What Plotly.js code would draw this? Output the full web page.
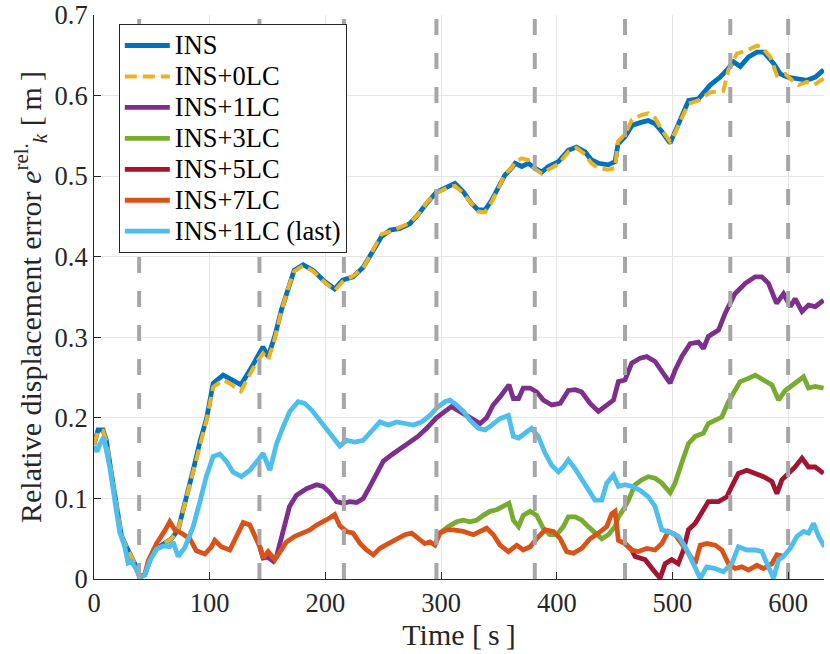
<!DOCTYPE html>
<html>
<head>
<meta charset="utf-8">
<script src="https://cdn.plot.ly/plotly-3.0.1.min.js"></script>
<style>
  html, body { margin: 0; padding: 0; background: #fff; }
  #plot { width: 830px; height: 654px; }
</style>
</head>
<body>
<div id="plot"></div>
<script>
// ---------- data: [time s, error m] ----------
const lcTimes = [39, 143, 216, 296, 381, 459, 550, 600];

const ins = [[0,0.167],[3.5,0.185],[7.8,0.185],[10.7,0.172],[15,0.131],[19.4,0.088],[23.7,0.054],[28,0.04],[32.3,0.028],[36.6,0.015],
  [39.5,0.002],[44,0.006],[49.6,0.028],[54,0.038],[62.6,0.046],[67,0.05],[72.7,0.061],[80,0.101],[85.7,0.135],[91.5,0.17],
  [97.4,0.2],[103,0.243],[111.6,0.253],[117,0.249],[127,0.241],[134.7,0.259],[140,0.272],[146,0.288],[150.5,0.276],[156,0.30],
  [162,0.334],[169,0.367],[173,0.383],[180.8,0.39],[189.5,0.383],[198,0.371],[208,0.36],[215,0.371],[224,0.375],[232.7,0.387],
  [241,0.408],[248.6,0.425],[256,0.433],[264.5,0.435],[273,0.441],[280,0.452],[287.5,0.466],[296,0.48],[306,0.487],[312,0.491],
  [319,0.481],[326.4,0.466],[332,0.458],[338,0.458],[343.7,0.47],[351,0.491],[355,0.501],[361,0.51],[364,0.516],[369.7,0.512],
  [375.4,0.516],[381,0.51],[387,0.505],[392.7,0.512],[401.4,0.518],[410,0.532],[417,0.536],[424.5,0.53],[430,0.52],[436,0.516],
  [444.6,0.514],[450.4,0.518],[453,0.54],[459,0.549],[465,0.563],[473.5,0.567],[479,0.569],[485,0.565],[491,0.555],[498,0.541],
  [502,0.553],[508,0.574],[514,0.594],[522.5,0.596],[532.6,0.613],[541.3,0.623],[548.5,0.634],[552.8,0.642],[558.6,0.636],[565.8,0.648],
  [573,0.654],[578.8,0.654],[587.4,0.64],[593.2,0.627],[599,0.623],[607.6,0.621],[616.3,0.619],[623.5,0.623],[630.7,0.632]];

const ins0lc = [[0,0.167],[3.5,0.184],[7.8,0.184],[10.7,0.171],[15,0.131],[19.4,0.088],[23.7,0.054],[28,0.04],[32.3,0.028],[36.6,0.015],
  [39.5,0.002],[44,0.006],[49.6,0.028],[54,0.038],[62.6,0.046],[67,0.05],[72.7,0.061],[80,0.101],[85.7,0.135],[91.5,0.168],
  [97.4,0.198],[103,0.238],[111.6,0.247],[117,0.243],[127,0.233],[134.7,0.254],[140,0.268],[146,0.28],[150.5,0.272],[156,0.297],
  [162,0.333],[169,0.366],[173,0.382],[180.8,0.389],[189.5,0.382],[198,0.37],[208,0.358],[215,0.369],[224,0.376],[232.7,0.386],
  [241,0.407],[248.6,0.428],[256,0.431],[264.5,0.437],[273,0.442],[280,0.452],[287.5,0.467],[296,0.479],[306,0.486],[312,0.488],
  [319,0.479],[326.4,0.466],[332,0.456],[338,0.455],[343.7,0.468],[351,0.489],[355,0.503],[361,0.51],[364,0.518],[369.7,0.522],
  [375.4,0.52],[381,0.509],[387,0.503],[392.7,0.508],[401.4,0.515],[410,0.53],[417,0.535],[424.5,0.527],[430,0.516],[436,0.51],
  [444.6,0.508],[450.4,0.51],[453,0.543],[459,0.552],[465,0.57],[473.5,0.576],[479,0.578],[485,0.572],[491,0.557],[498,0.543],
  [502,0.553],[508,0.572],[514,0.59],[522.5,0.594],[532.6,0.604],[544,0.606],[548.5,0.632],[555.7,0.652],[564.4,0.656],[573,0.662],
  [577.3,0.66],[584.6,0.648],[590.3,0.625],[597.5,0.627],[603.3,0.619],[609,0.613],[616.3,0.617],[622,0.613],[630.7,0.621]];

const ins1lc = [[143.3,0.04],[146.2,0.026],[150.5,0.027],[155,0.022],[157.8,0.028],[163.5,0.061],[169,0.09],[175,0.104],[183.7,0.112],[192.4,0.117],
  [198,0.115],[204,0.107],[209.7,0.096],[215.4,0.094],[221,0.096],[227,0.095],[232.7,0.1],[238.5,0.115],[244,0.131],[250,0.146],
  [257,0.154],[264.5,0.162],[273,0.17],[280,0.177],[287.5,0.187],[296,0.2],[303.4,0.208],[309,0.214],[316,0.208],[325,0.201],
  [333.7,0.193],[339.4,0.2],[345,0.216],[351,0.226],[355.3,0.234],[358.7,0.241],[362.5,0.224],[367,0.224],[371,0.237],[377,0.237],
  [382.7,0.232],[388.4,0.222],[395.7,0.216],[403,0.218],[410,0.234],[416,0.235],[421.6,0.232],[428.8,0.218],[436,0.208],[441.8,0.214],
  [449,0.222],[453.3,0.245],[459,0.247],[464.8,0.268],[472,0.274],[477.8,0.276],[485,0.27],[492.2,0.255],[498,0.243],[502.3,0.259],
  [508,0.276],[515.3,0.292],[522.5,0.294],[526.8,0.286],[531,0.301],[539.8,0.309],[545.6,0.33],[554,0.354],[563,0.367],[571.5,0.375],
  [577.3,0.375],[583,0.367],[590,0.342],[596,0.354],[602,0.338],[606,0.348],[612,0.332],[617.6,0.34],[623.4,0.338],[630.6,0.346]];

const ins3lc = [[299,0.057],[306,0.065],[313.5,0.071],[319,0.073],[325,0.071],[330.8,0.073],[336.5,0.079],[342.3,0.084],[348,0.086],[354,0.09],
  [358.7,0.094],[362.5,0.073],[367,0.065],[371,0.079],[377,0.084],[382.7,0.079],[388.4,0.063],[394,0.055],[400,0.055],[405.7,0.065],
  [410,0.077],[416,0.077],[421.6,0.073],[427.3,0.065],[433,0.057],[438.9,0.05],[444.6,0.055],[450.4,0.065],[453.3,0.077],[457.6,0.086],
  [462,0.098],[467.7,0.117],[473.5,0.123],[479.2,0.127],[485,0.125],[490.8,0.119],[498,0.107],[502.3,0.119],[508,0.144],[513.8,0.168],
  [519.6,0.177],[526.8,0.181],[531,0.193],[537,0.197],[542.7,0.201],[548.4,0.22],[554.2,0.234],[558.5,0.245],[565.7,0.249],[571.5,0.253],
  [578.7,0.247],[586,0.241],[591.7,0.222],[597.5,0.234],[606,0.243],[613.3,0.251],[617.6,0.237],[623.4,0.239],[630.6,0.237]];

const ins5lc = [[459,0.044],[464.8,0.036],[467.7,0.028],[476.4,0.024],[483.6,0.011],[489.3,0.001],[493.7,0.019],[499.4,0.024],[505,0.019],[509.5,0.036],
  [513.8,0.061],[519.6,0.069],[526.8,0.086],[531,0.096],[539.8,0.096],[547,0.102],[551.3,0.115],[557,0.131],[564.3,0.135],[571.5,0.131],
  [578.7,0.127],[586,0.121],[590.3,0.106],[594.6,0.123],[600.3,0.131],[606,0.139],[612,0.15],[617.6,0.139],[623.4,0.139],[630.6,0.131]];

const ins7lc = [[39.5,0.002],[44,0.006],[46.7,0.022],[54,0.044],[61.2,0.06],[65.5,0.071],[69.8,0.061],[75.5,0.057],[82.8,0.05],[88.5,0.035],
  [95.8,0.031],[101.5,0.04],[104.4,0.048],[110,0.04],[117.4,0.036],[123,0.052],[129,0.07],[134.7,0.067],[139,0.055],[143.3,0.04],
  [146.2,0.026],[150.5,0.034],[156.3,0.024],[160.7,0.034],[166.4,0.046],[173.6,0.053],[180.8,0.057],[186.6,0.061],[192.4,0.067],[198,0.071],
  [204,0.076],[208,0.08],[212.5,0.066],[218.3,0.059],[224,0.057],[230,0.044],[235.6,0.036],[241.4,0.03],[247,0.038],[254.4,0.044],
  [261.6,0.05],[268.8,0.055],[274.5,0.057],[280,0.05],[286,0.044],[290.4,0.046],[294.7,0.042],[299,0.057],[304.8,0.061],[310.6,0.061],
  [319.2,0.059],[328,0.055],[333.7,0.059],[339.4,0.063],[345.2,0.055],[351,0.042],[358.2,0.034],[365.4,0.042],[371,0.036],[377,0.04],
  [382.7,0.05],[390,0.061],[397,0.059],[403,0.05],[408.6,0.034],[414.4,0.032],[421.6,0.038],[428.8,0.05],[436,0.057],[443.2,0.065],
  [447.5,0.081],[450.4,0.084],[453.3,0.048],[459,0.044],[464.8,0.036],[470.6,0.034],[477.8,0.038],[485,0.036],[490.8,0.044],[496.5,0.059],
  [502.3,0.055],[508,0.044],[513.8,0.032],[519.6,0.019],[524,0.042],[529.7,0.044],[537,0.042],[542.7,0.036],[548.4,0.019],[554.2,0.013],
  [560,0.015],[565.7,0.011],[573,0.017],[578.7,0.013],[586,0.019],[590.3,0.03],[596,0.028]];

const ins1lcLast = [[0,0.165],[2.6,0.158],[5,0.167],[8.4,0.176],[13.6,0.139],[17.9,0.102],[22.2,0.058],[26.6,0.04],[29.4,0.02],[32.3,0.022],
  [36.6,0.012],[39.5,0.002],[44,0.005],[48,0.022],[54,0.037],[59.7,0.041],[65.5,0.04],[68.4,0.046],[72.7,0.028],[78.5,0.039],
  [85.7,0.065],[91.4,0.095],[97,0.127],[103,0.152],[108.8,0.155],[114.5,0.146],[120,0.133],[127.5,0.127],[134.7,0.135],[142,0.148],
  [146.2,0.156],[152,0.135],[157.8,0.168],[163.5,0.189],[169.3,0.208],[176.5,0.22],[182,0.218],[188,0.21],[195,0.197],[201,0.185],
  [206.8,0.175],[212.5,0.165],[218.3,0.172],[225.5,0.17],[232.7,0.172],[240,0.183],[247.2,0.195],[254.4,0.191],[261.6,0.195],[268.8,0.193],
  [276,0.191],[283.2,0.195],[290.4,0.203],[296,0.212],[303.4,0.22],[307.7,0.222],[313.5,0.216],[319.2,0.208],[325,0.197],[332.2,0.187],
  [338,0.185],[343.8,0.191],[351,0.199],[358.2,0.203],[362.5,0.177],[367,0.175],[372.6,0.181],[378.3,0.187],[384,0.177],[390,0.156],
  [395.7,0.141],[401.4,0.133],[405.7,0.139],[410,0.148],[415.8,0.137],[421.6,0.123],[427.3,0.11],[433,0.098],[438.9,0.098],[443.2,0.119],
  [449,0.129],[453.3,0.115],[459,0.117],[464.8,0.115],[472,0.11],[479.2,0.102],[485,0.09],[490.8,0.061],[499.4,0.057],[505.2,0.053],
  [511,0.04],[516.7,0.024],[524,0.001],[529.7,0.015],[537,0.013],[544,0.009],[551.3,0.019],[557,0.04],[564.3,0.036],[571.5,0.036],
  [577.3,0.034],[583,0.015],[587.4,0.001],[591.7,0.024],[596,0.028],[601.8,0.038],[607.6,0.053],[613.3,0.059],[617.6,0.057],[622,0.069],
  [626.3,0.053],[631.5,0.04]];

const seriesNames = ['INS', 'INS+0LC', 'INS+1LC', 'INS+3LC', 'INS+5LC', 'INS+7LC', 'INS+1LC (last)'];
const seriesData = [ins, ins0lc, ins1lc, ins3lc, ins5lc, ins7lc, ins1lcLast];

// MATLAB default colour order
const colors = ['#0072BD', '#EDB120', '#7E2F8E', '#77AC30', '#A2142F', '#D95319', '#4DBEEE'];

const FONT = 'Liberation Serif, Times New Roman, serif';
const INK = '#262626';

// legend rows are spaced from legend.font.size, glyphs drawn a bit larger
const legendRowSize = 21.5;
const legendTextSize = 26.5;

const traces = seriesData.map((d, i) => ({
  x: d.map(p => p[0]),
  y: d.map(p => p[1]),
  type: 'scatter',
  mode: 'lines',
  name: '<span style="font-size:' + legendTextSize + 'px">' + seriesNames[i] + '</span>',
  line: {
    color: colors[i],
    width: i === 1 ? 4 : 4.8,
    dash: i === 1 ? '12px,6px' : 'solid'
  }
}));

// loop closure instants, dashed grey, drawn on top
lcTimes.forEach(t => {
  traces.push({
    x: [t, t], y: [0, 0.7],
    type: 'scatter', mode: 'lines',
    line: { color: '#a6a6a6', width: 4, dash: '16px,18px' },
    showlegend: false, hoverinfo: 'skip'
  });
});

const layout = {
  width: 830, height: 654,
  margin: { l: 94, r: 6, t: 15, b: 75 },
  paper_bgcolor: '#fff', plot_bgcolor: '#fff',
  font: { family: FONT, size: 26.5, color: INK },
  showlegend: true,
  legend: {
    x: 0.034, y: 0.984, xanchor: 'left', yanchor: 'top',
    bgcolor: '#fff', bordercolor: INK, borderwidth: 1,
    font: { family: FONT, size: legendRowSize, color: '#000' },
    tracegroupgap: 0, itemwidth: 45
  },
  xaxis: {
    range: [0, 631], tickvals: [0, 100, 200, 300, 400, 500, 600],
    tickfont: { family: FONT, size: 26.5, color: INK },
    showgrid: true, gridcolor: '#e6e6e6', gridwidth: 1,
    showline: true, linecolor: INK, linewidth: 1, mirror: false,
    ticks: 'inside', ticklen: 7, tickcolor: INK, zeroline: false,
    title: { text: 'Time [\u2009s\u2009]', font: { family: FONT, size: 30, color: INK }, standoff: 4 }
  },
  yaxis: {
    range: [0, 0.7], tickvals: [0, 0.1, 0.2, 0.3, 0.4, 0.5, 0.6, 0.7],
    tickfont: { family: FONT, size: 26.5, color: INK },
    showgrid: true, gridcolor: '#e6e6e6', gridwidth: 1,
    showline: true, linecolor: INK, linewidth: 1, mirror: false,
    ticks: 'inside', ticklen: 7, tickcolor: INK, zeroline: false,
    title: { text: 'Relative displacement error <i>e</i><sup>rel.</sup><sub><i>k</i></sub> [\u2009m\u2009]',
             font: { family: FONT, size: 30, color: INK }, standoff: 4 }
  }
};

Plotly.newPlot('plot', traces, layout, { displayModeBar: false, staticPlot: true });
</script>
</body>
</html>
